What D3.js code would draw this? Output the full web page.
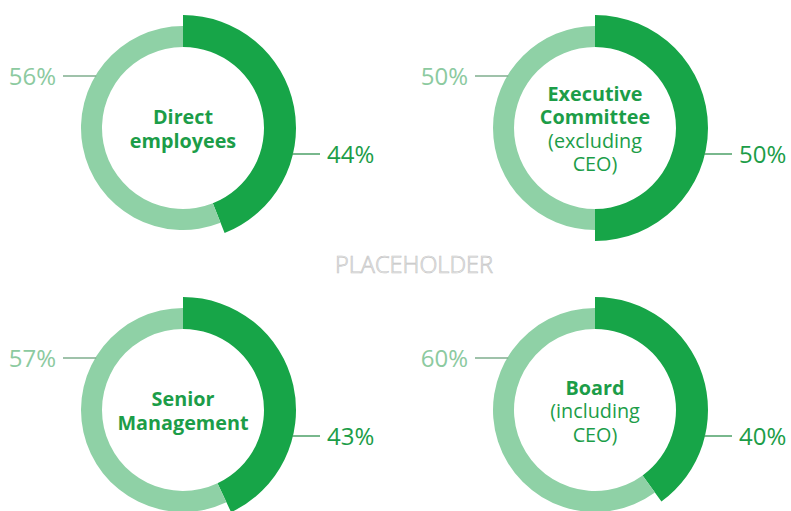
<!DOCTYPE html>
<html>
<head>
<meta charset="utf-8">
<script src="https://cdn.jsdelivr.net/npm/d3@7"></script>
<style>
  html, body { margin: 0; padding: 0; background: #fff; }
  svg { display: block; font-family: "Open Sans", sans-serif; }
</style>
</head>
<body>
<svg id="chart" width="791" height="511"></svg>
<script>
// Share of each group, dark = highlighted share, light = remainder
const groups = ["Direct employees", "Executive Committee", "Senior Management", "Board"];
const darkShare = [44, 50, 43, 40];
const lightShare = [56, 50, 57, 60];
// Centre captions: bold lines then regular lines
const boldLines = [["Direct", "employees"], ["Executive", "Committee"], ["Senior", "Management"], ["Board"]];
const plainLines = [[], ["(excluding", "CEO)"], [], ["(including", "CEO)"]];

const W = 791, H = 511;
const dark = "#17a548", light = "#8fd1a6";
const darkText = "#1c9d48", lightText = "#8ccaa0";

const svg = d3.select("#chart");

const col = d3.scalePoint().domain([0, 1]).range([183, 595]);
const row = d3.scalePoint().domain([0, 1]).range([128, 410]);

const pie = d3.pie().sort(null).value(d => d.v).startAngle(0).endAngle(2 * Math.PI);
const innerR = 81, darkR = 113, lightR = 102;
const arcGen = d3.arc().innerRadius(innerR).outerRadius(d => d.data.k === "dark" ? darkR : lightR);

groups.forEach((g, i) => {
  const cx = col(i % 2), cy = row(Math.floor(i / 2));
  const grp = svg.append("g").attr("transform", `translate(${cx},${cy})`);
  const slices = pie([{ k: "dark", v: darkShare[i] }, { k: "light", v: lightShare[i] }]);

  grp.selectAll("path").data(slices).join("path")
    .attr("d", arcGen)
    .attr("fill", d => d.data.k === "dark" ? dark : light);

  // leader line + value, light share (upper left)
  const ly = -52;
  const lx = -Math.sqrt(lightR * lightR - ly * ly);
  grp.append("line").attr("x1", -120).attr("x2", lx + 1).attr("y1", ly).attr("y2", ly)
    .attr("stroke", "#7fae8e").attr("stroke-width", 1.4);
  grp.append("text").attr("x", -127).attr("y", ly).attr("dy", "0.36em")
    .attr("text-anchor", "end").attr("font-size", 24).attr("fill", lightText)
    .text(lightShare[i] + "%");

  // leader line + value, dark share (lower right)
  const ry = 26;
  const rx = Math.sqrt(darkR * darkR - ry * ry);
  grp.append("line").attr("x1", rx - 1).attr("x2", 137).attr("y1", ry).attr("y2", ry)
    .attr("stroke", "#3f9a5c").attr("stroke-width", 1.4);
  grp.append("text").attr("x", 144).attr("y", ry).attr("dy", "0.36em")
    .attr("text-anchor", "start").attr("font-size", 24).attr("fill", darkText)
    .text(darkShare[i] + "%");

  // centre caption, one text block with a tspan per line
  const lines = boldLines[i].map(t => ({ t, b: true })).concat(plainLines[i].map(t => ({ t, b: false })));
  const lh = 23.5;
  const y0 = -(lines.length - 1) * lh / 2 + 1;
  const cap = grp.append("text").attr("class", "cap")
    .attr("text-anchor", "middle").attr("font-size", 19.8).attr("fill", darkText);
  cap.selectAll("tspan").data(lines).join("tspan")
    .attr("x", 0).attr("y", (d, j) => y0 + j * lh).attr("dy", "0.36em")
    .attr("font-weight", d => d.b ? 700 : 400)
    .text(d => d.t);
});

svg.append("text").attr("x", 414).attr("y", 265).attr("dy", "0.36em")
  .attr("text-anchor", "middle").attr("font-size", 23.5).attr("font-weight", 300)
  .attr("fill", "#fbfbfb").attr("stroke", "#c4c4c4").attr("stroke-width", 0.7)
  .text("PLACEHOLDER");
</script>
</body>
</html>
